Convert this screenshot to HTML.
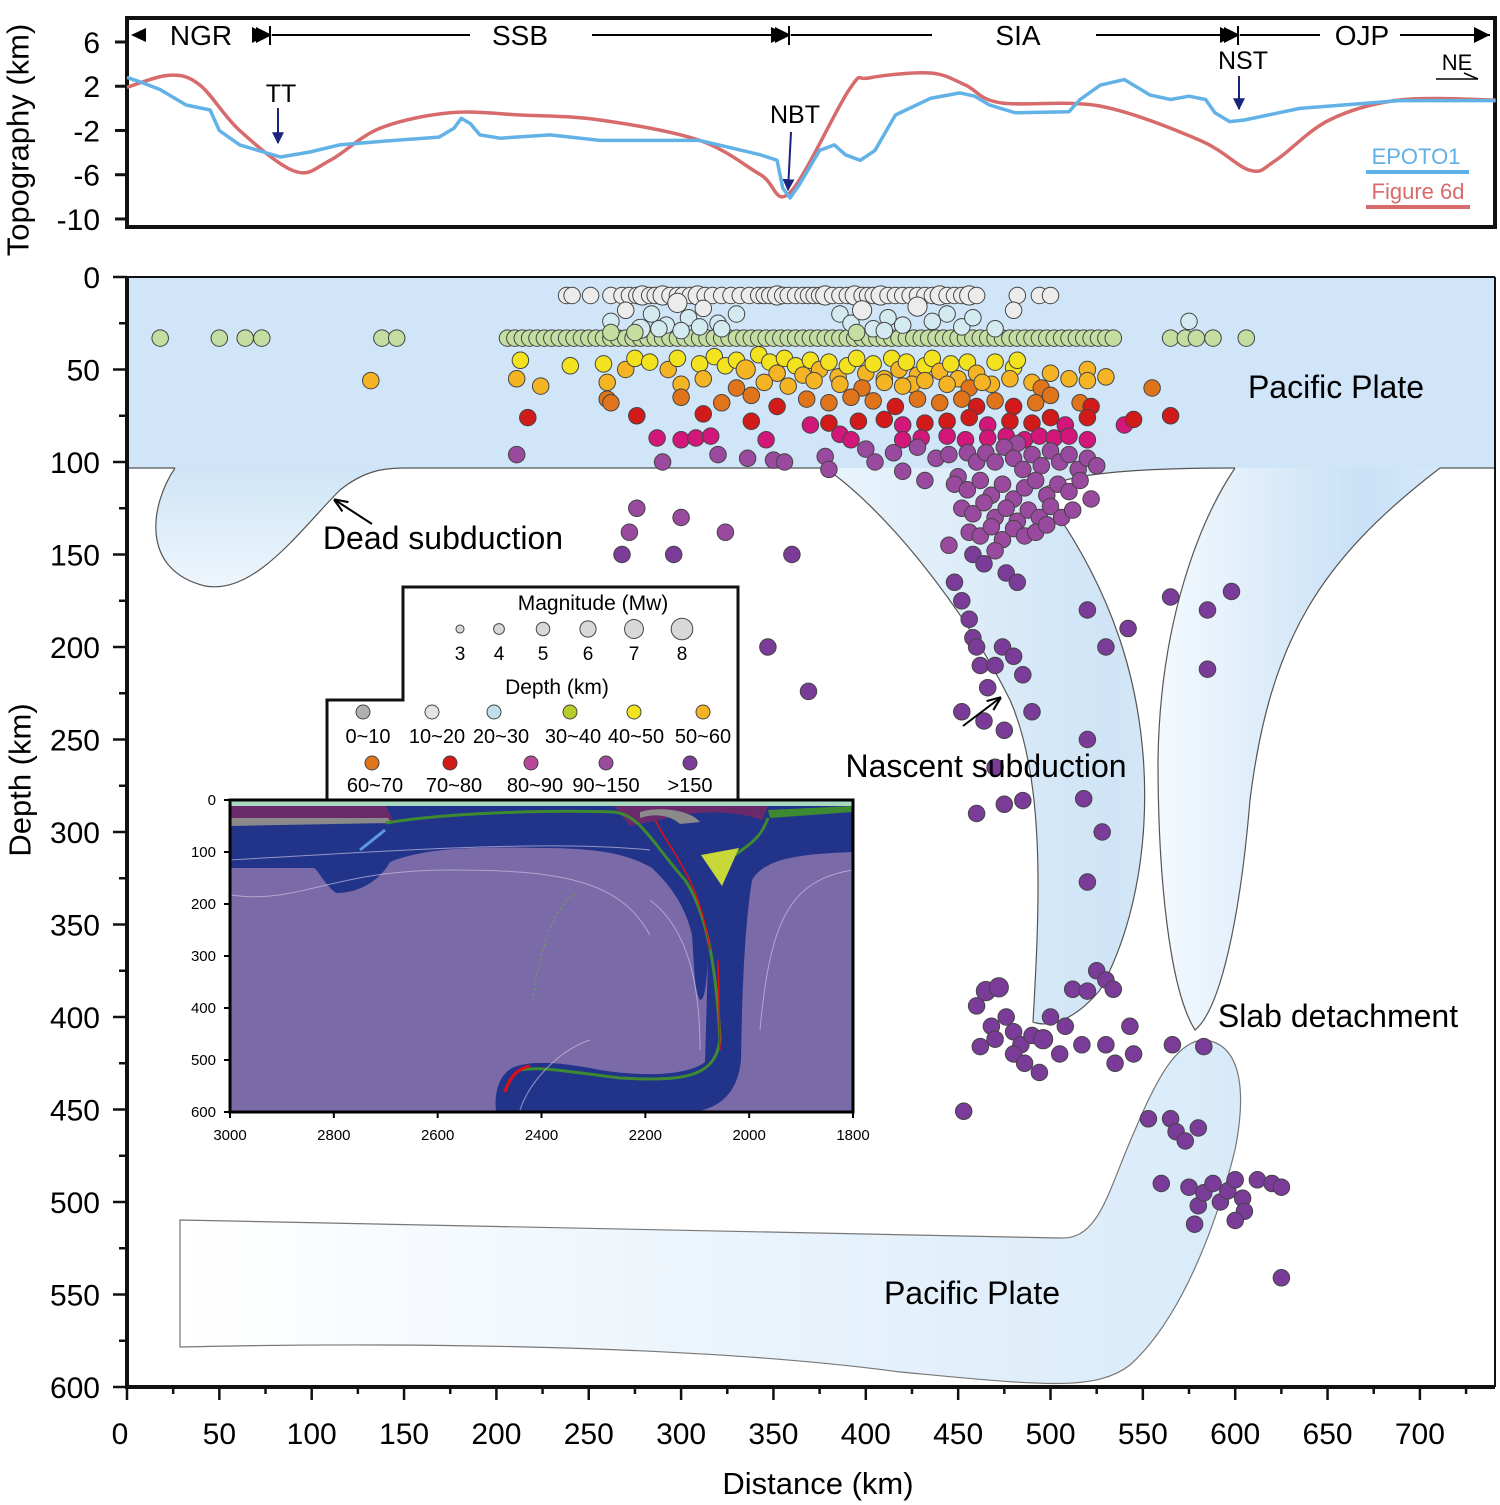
<!DOCTYPE html>
<html><head><meta charset="utf-8">
<style>
html,body{margin:0;padding:0;background:#fff;}
svg{display:block;font-family:"Liberation Sans",Arial,sans-serif;}
</style></head>
<body>
<svg id="fig" width="1500" height="1505" viewBox="0 0 1500 1505" xmlns="http://www.w3.org/2000/svg">
<defs>
<linearGradient id="gDead" x1="0" y1="0" x2="0" y2="1"><stop offset="0" stop-color="#cfe5f7"/><stop offset="1" stop-color="#eef6fc"/></linearGradient>
<linearGradient id="gSlab" x1="0" y1="0" x2="1" y2="0"><stop offset="0" stop-color="#eaf4fc"/><stop offset="0.7" stop-color="#cfe4f6"/><stop offset="1" stop-color="#e2effa"/></linearGradient>
<linearGradient id="gDet" x1="0" y1="0" x2="1" y2="0"><stop offset="0" stop-color="#f4f9fe"/><stop offset="0.6" stop-color="#c9e1f6"/><stop offset="1" stop-color="#ddeefb"/></linearGradient>
<linearGradient id="gLow" x1="0" y1="0" x2="1" y2="0"><stop offset="0" stop-color="#ffffff"/><stop offset="1" stop-color="#d8eaf9"/></linearGradient>
<marker id="arrNavy" viewBox="0 0 10 10" refX="9" refY="5" markerWidth="6" markerHeight="8" orient="auto"><path d="M0,0 L10,5 L0,10 z" fill="#1a237e"/></marker>
<marker id="arrBlk" viewBox="0 0 10 10" refX="9" refY="5" markerWidth="7" markerHeight="7" orient="auto"><path d="M0,1 L10,5 L0,9" fill="none" stroke="#000" stroke-width="1.5"/></marker>
<marker id="arrHead" viewBox="0 0 10 10" refX="10" refY="5" markerWidth="8" markerHeight="8" orient="auto"><path d="M0,0 L10,5 L0,10 z" fill="#000"/></marker>
</defs>

<g>
<rect x="127" y="18" width="1368" height="209" fill="#fff" stroke="#111" stroke-width="4"/>
<g id="topAxis"></g>
<g id="topLines"></g>
<text x="18" y="140" font-size="31" transform="rotate(-90 18 140)" text-anchor="middle" dominant-baseline="central">Topography (km)</text>
<g font-size="28" text-anchor="middle">
<path d="M131,35 L146,28 L146,42 Z" fill="#000"/>
<text x="201" y="45">NGR</text>
<line x1="258" y1="35" x2="268" y2="35" stroke="#000" stroke-width="2" marker-end="url(#arrHead)"/>
<line x1="270" y1="26" x2="270" y2="45" stroke="#000" stroke-width="2"/>
<line x1="272" y1="35" x2="470" y2="35" stroke="#000" stroke-width="2" marker-start="url(#arrHead)"/>
<text x="520" y="45">SSB</text>
<line x1="592" y1="35" x2="787" y2="35" stroke="#000" stroke-width="2" marker-end="url(#arrHead)"/>
<line x1="789" y1="26" x2="789" y2="45" stroke="#000" stroke-width="2"/>
<line x1="791" y1="35" x2="932" y2="35" stroke="#000" stroke-width="2" marker-start="url(#arrHead)"/>
<text x="1018" y="45">SIA</text>
<line x1="1096" y1="35" x2="1236" y2="35" stroke="#000" stroke-width="2" marker-end="url(#arrHead)"/>
<line x1="1238" y1="26" x2="1238" y2="45" stroke="#000" stroke-width="2"/>
<line x1="1240" y1="35" x2="1320" y2="35" stroke="#000" stroke-width="2" marker-start="url(#arrHead)"/>
<text x="1362" y="45">OJP</text>
<line x1="1400" y1="35" x2="1490" y2="35" stroke="#000" stroke-width="2" marker-end="url(#arrHead)"/>
</g>
<g font-size="25" text-anchor="middle">
<text x="281" y="102">TT</text>
<line x1="278" y1="108" x2="278" y2="143" stroke="#1a237e" stroke-width="2" marker-end="url(#arrNavy)"/>
<text x="795" y="123">NBT</text>
<line x1="791" y1="132" x2="788" y2="190" stroke="#1a237e" stroke-width="2" marker-end="url(#arrNavy)"/>
<text x="1243" y="69">NST</text>
<line x1="1239" y1="76" x2="1239" y2="109" stroke="#1a237e" stroke-width="2" marker-end="url(#arrNavy)"/>
<text x="1457" y="70" font-size="22">NE</text>
<line x1="1436" y1="79" x2="1478" y2="79" stroke="#000" stroke-width="1.5"/>
<line x1="1464" y1="73" x2="1478" y2="79" stroke="#000" stroke-width="1.5"/>
</g>
<g>
<text x="1416" y="164" font-size="22" fill="#5fb0e6" text-anchor="middle">EPOTO1</text>
<line x1="1366" y1="172" x2="1469" y2="172" stroke="#5fb0e6" stroke-width="4"/>
<text x="1418" y="199" font-size="22" fill="#d76b6b" text-anchor="middle">Figure 6d</text>
<line x1="1366" y1="207" x2="1470" y2="207" stroke="#d76b6b" stroke-width="4"/>
</g>
</g>

<g>
<rect x="127" y="277" width="1368" height="191" fill="#d0e6f8"/>
<line x1="127" y1="468" x2="175" y2="468" stroke="#555" stroke-width="1.2"/>
<path d="M175,468 C150,505 140,570 205,586 C255,595 300,530 340,490 C365,470 385,468 405,468" fill="url(#gDead)" stroke="#555" stroke-width="1.2"/>
<line x1="405" y1="468" x2="825" y2="468" stroke="#555" stroke-width="1.2"/>
<path d="M825,468 C880,505 960,600 1010,700 C1045,780 1040,900 1033,1022 C1050,1028 1075,1020 1100,990 C1150,900 1160,760 1120,640 C1100,580 1070,530 1040,490 C1060,478 1100,468 1235,468" fill="url(#gSlab)" stroke="#555" stroke-width="1.2"/>
<path d="M1235,468 C1200,520 1160,620 1158,760 C1158,880 1170,990 1195,1030 C1220,1010 1240,920 1250,800 C1270,640 1320,560 1440,468 L1495,468" fill="url(#gDet)" stroke="#555" stroke-width="1.2"/>
<path d="M180,1220 L1060,1238 C1100,1240 1108,1190 1135,1130 C1160,1070 1180,1040 1205,1040 C1245,1045 1245,1100 1235,1150 C1215,1230 1180,1320 1130,1365 C1095,1392 1040,1385 900,1372 C700,1345 400,1342 180,1347 Z" fill="url(#gLow)" stroke="#777" stroke-width="1.2"/>
<g id="quakes"></g>
<line x1="1495" y1="277" x2="1495" y2="1387" stroke="#111" stroke-width="2"/>
<line x1="127" y1="277" x2="1495" y2="277" stroke="#111" stroke-width="2"/>
<line x1="127" y1="277" x2="127" y2="1388" stroke="#111" stroke-width="4"/>
<line x1="125" y1="1387" x2="1495" y2="1387" stroke="#111" stroke-width="4"/>
<g id="mainAxes"></g>
<text x="20" y="780" font-size="31" transform="rotate(-90 20 780)" text-anchor="middle" dominant-baseline="central">Depth (km)</text>
<text x="818" y="1494" font-size="31" text-anchor="middle">Distance (km)</text>
<g font-size="32" text-anchor="middle">
<text x="1336" y="398">Pacific Plate</text>
<text x="443" y="549">Dead subduction</text>
<line x1="372" y1="524" x2="335" y2="500" stroke="#000" stroke-width="2" marker-end="url(#arrBlk)"/>
<text x="986" y="777">Nascent subduction</text>
<line x1="963" y1="726" x2="1000" y2="698" stroke="#000" stroke-width="2" marker-end="url(#arrBlk)"/>
<text x="1338" y="1027">Slab detachment</text>
<text x="972" y="1304">Pacific Plate</text>
</g>
</g>

<g>
<path d="M327,800 L327,700 L403,700 L403,587 L738,587 L738,800 Z" fill="#fff" stroke="#111" stroke-width="3"/>
<text x="593" y="610" font-size="21" text-anchor="middle">Magnitude (Mw)</text>
<g id="magLegend"></g>
<text x="557" y="694" font-size="21" text-anchor="middle">Depth (km)</text>
<g id="depthLegend"></g>
</g>

<g>
<rect x="230" y="800" width="623" height="312" fill="#7a6aa8"/>
<path d="M230,806 L853,806 L853,852 C800,854 765,858 752,880 C744,930 742,1000 741,1060 C738,1092 720,1110 690,1112 L496,1112 C494,1090 500,1075 512,1068 C530,1060 560,1062 600,1070 C650,1078 690,1074 705,1062 L708,960 C706,990 704,1000 700,1000 C694,990 694,960 692,935 C685,905 670,885 652,868 C625,852 590,848 540,848 C460,846 420,850 390,862 C380,880 360,893 336,893 C325,885 318,870 314,868 L230,868 Z" fill="#22338a"/>
<path d="M230,806 L386,806 L394,822 L230,824 Z" fill="#6a2a6a"/>
<path d="M230,818 L388,818 L392,823 L230,826 Z" fill="#8a8a8a"/>
<path d="M614,806 L768,806 L762,820 C740,812 700,808 660,820 L630,826 Z" fill="#6a2a6a"/>
<path d="M640,812 C660,806 690,810 700,822 L680,824 C670,815 655,813 640,818 Z" fill="#8a8a8a"/>
<path d="M230,800 L853,800 L853,806 L230,806 Z" fill="#a8d8c0"/>
<path d="M386,823 C450,812 560,810 614,812 C640,815 650,840 685,880 C705,910 716,960 720,1040 C715,1075 690,1082 620,1078 C570,1072 540,1066 520,1070" fill="none" stroke="#3e8a30" stroke-width="3"/>
<path d="M655,820 C670,850 700,880 710,950 M718,960 L720,1050" fill="none" stroke="#e01010" stroke-width="1.5"/>
<path d="M505,1092 C510,1075 520,1068 530,1066" fill="none" stroke="#e01010" stroke-width="3"/>
<path d="M768,818 C760,840 748,845 735,855" fill="none" stroke="#3e8a30" stroke-width="3"/>
<path d="M701,855 L739,848 L722,886 Z" fill="#c8d838"/>
<path d="M768,810 L853,806 L853,812 L770,818 Z" fill="#3e8a30"/>
<path d="M360,850 L385,830" stroke="#5a9ae0" stroke-width="3"/>
<path d="M230,895 C300,905 330,870 450,870 C560,870 620,880 650,935 M230,860 C400,850 550,840 650,850 M760,1030 C770,920 790,880 853,870 M520,1110 C530,1080 560,1050 590,1040 M650,900 C690,930 700,990 700,1050" fill="none" stroke="#c8c0e0" stroke-width="1" opacity="0.7"/>
<path d="M533,1000 C540,940 560,900 575,895" fill="none" stroke="#6ab040" stroke-width="1" stroke-dasharray="2 3"/>
<rect x="230" y="800" width="623" height="312" fill="none" stroke="#000" stroke-width="3"/>
<g id="insetAxes" font-size="15"></g>
</g>
</svg>

<script>
const topoRedDist = [0,23,39.5,61,91,110,137,175,213,256,310,343,359,391,402,435,454,473,527,581,608,622,651,689,741];
const topoRedVal = [1.9,3.0,2.1,-2.0,-5.7,-4.7,-1.8,-0.4,-0.6,-1.05,-2.9,-6.0,-7.6,1.7,2.75,3.2,2.1,0.5,0.2,-2.9,-5.6,-4.7,-1.05,0.76,0.76];
const topoBlueDist = [0,7,18,32,45,50,61,83,99,115,137,169,177,181,186,191,202,229,256,310,343,352,355,359,364,375,383,389,397,405,416,435,451,459,467,481,510,516,527,540,554,565,575,584,589,597,605,635,689,741];
const topoBlueVal = [2.8,2.4,1.7,0.3,-0.15,-2.0,-3.3,-4.4,-3.95,-3.3,-3.0,-2.6,-1.8,-0.9,-1.4,-2.4,-2.7,-2.4,-2.9,-2.9,-4.2,-4.7,-7.2,-8.1,-6.9,-3.8,-3.3,-4.2,-4.7,-3.8,-0.6,0.9,1.4,1.1,0.3,-0.4,-0.3,0.8,2.1,2.6,1.2,0.8,1.1,0.8,-0.4,-1.2,-1.05,0.0,0.7,0.7];
const topoTicks = [6,2,-2,-6,-10];

const row10Dist = [238,241,251,262,268,272,276,279,283,286,290,294,298,301,305,309,313,317,322,327,332,337,342,345,348,352,355,358,362,366,369,372,375,378,382,386,390,394,398,401,404,408,412,416,420,424,428,432,436,440,444,448,452,456,460,482,494,500];
const row10Mag = [5,5,5,5,5,5,5,6,5,5,6,5,5,5,5,6,5,5,5,5,5,5,5,5,5,6,5,5,5,5,5,5,5,6,5,5,5,6,5,5,5,6,5,5,5,5,5,5,5,6,5,5,5,6,5,5,5,5];
const row33Dist = [18,50,64,73,138,146,206,210,214,218,222,226,230,234,238,242,246,250,254,258,262,266,270,274,278,282,286,290,294,298,302,306,310,314,318,322,326,330,334,338,342,346,350,354,358,362,366,370,374,378,382,386,390,394,398,402,406,410,414,418,422,426,430,434,438,442,446,450,454,458,462,466,470,474,478,482,486,490,494,498,502,506,510,514,518,522,526,530,534,565,573,579,588,606];
const shallowDist = [262,270,278,284,292,298,304,312,320,330,262,275,288,300,310,322,386,392,398,404,412,420,428,436,444,452,458,575,470,480,395,410];
const shallowDepth = [24,18,28,20,26,14,22,17,25,20,30,30,28,29,27,28,20,25,18,28,22,26,16,24,20,27,22,24,28,18,30,29];
const shallowMag = [5,5,6,5,5,6,5,5,5,5,5,5,5,5,5,5,5,5,6,5,5,5,6,5,5,5,5,5,5,5,5,5];
const deepDist = [
 213,132,211,240,258,270,275,283,293,298,310,318,324,330,335,342,348,352,356,362,366,370,375,380,385,390,395,400,404,410,414,418,422,428,432,436,440,446,450,455,460,470,480,490,500,510,520,530,482,425,
 224,260,300,312,330,345,358,372,386,398,410,420,432,444,456,468,478,495,520,555,463,
 260,300,322,338,352,368,380,392,404,416,428,440,452,460,470,480,492,500,516,522,262,
 217,276,312,338,370,380,396,410,420,432,444,456,466,478,490,500,508,520,540,565,545,
 287,300,308,316,346,386,392,420,430,444,454,466,476,486,494,502,510,520,482,
 211,290,320,336,350,356,378,380,400,405,415,420,428,432,438,445,450,455,460,
 465,470,475,480,485,490,495,500,505,510,515,520,525,
 448,455,462,468,474,480,486,492,498,504,510,516,522,
 452,458,464,470,476,482,488,494,500,506,512,
 456,462,468,474,480,486,492,498,
 458,464,470,476,482,
 585,
 268,272,276,300,296,360,369,347,324,445,448,452,456,458,460,462,466,470,474,480,485,490,464,470,452,475,475,485,520,530,520,542,565,598,585,518,528,520,460,
 465,472,460,468,476,480,484,490,496,500,508,512,520,525,530,534,462,470,480,486,494,505,517,530,535,543,545,566,453,
 553,565,568,580,573,583,560,575,580,583,588,592,596,600,604,612,605,578,600,620,625,625];
const deepDepth = [
 45,56,55,48,47,50,44,46,50,44,47,43,48,45,50,42,46,52,44,48,53,45,50,46,54,48,44,52,47,55,44,50,46,53,48,44,51,47,55,46,52,46,49,57,52,55,50,54,45,58,
 59,57,58,55,60,57,59,56,58,60,57,59,56,58,60,58,55,60,56,60,57,
 66,65,68,64,70,66,68,65,67,70,66,68,66,70,67,70,68,64,68,70,68,
 76,75,74,78,80,79,78,77,80,79,78,76,80,78,79,76,80,76,80,75,77,
 87,88,87,86,88,85,88,88,87,86,88,87,86,88,86,87,86,88,90,
 96,100,96,98,99,100,97,104,93,100,95,105,92,110,98,96,108,95,100,
 95,100,92,98,104,96,102,94,100,96,104,98,102,
 112,115,110,118,112,120,114,110,118,112,116,110,120,
 125,128,122,130,125,132,126,130,124,130,126,
 138,140,135,142,136,140,138,134,
 150,155,148,160,165,
 180,
 150,138,125,130,150,150,224,200,138,145,165,175,185,195,200,210,222,210,200,205,215,235,240,265,235,245,285,283,250,200,180,190,173,170,212,282,300,327,290,
 386,384,394,405,400,408,415,410,412,400,405,385,386,375,380,385,416,412,420,425,430,420,415,415,425,405,420,415,451,
 455,455,462,460,467,416,490,492,502,495,490,500,494,488,498,488,505,512,510,490,492,541];
const deepMag = [
 5,5,5,5,5,5,5,5,5,5,5,5,5,5,6,5,5,5,5,5,5,5,5,5,5,5,5,5,5,5,5,5,5,5,5,5,5,5,5,5,5,5,5,5,5,5,5,5,5,5,
 5,5,5,5,5,5,5,5,5,5,5,5,5,5,5,5,5,5,5,5,5,
 5,5,5,5,5,5,5,5,5,5,5,5,5,5,5,5,5,5,5,5,5,
 5,5,5,5,5,5,5,5,5,5,5,5,5,5,5,5,5,5,5,5,5,
 5,5,5,5,5,5,5,5,5,5,5,5,5,5,5,5,5,5,5,
 5,5,5,5,5,5,5,5,5,5,5,5,5,5,5,5,5,5,5,
 5,5,5,5,5,5,5,5,5,5,5,5,5,
 5,5,5,5,5,5,5,5,5,5,5,5,5,
 5,5,5,5,5,5,5,5,5,5,5,
 5,5,5,5,5,5,5,5,
 5,5,5,5,5,
 5,
 5,5,5,5,5,5,5,5,5,5,5,5,5,5,5,5,5,5,5,5,5,5,5,5,5,5,5,5,5,5,5,5,5,5,5,5,5,5,5,
 6,6,5,5,5,5,5,5,6,5,5,5,5,5,5,5,5,5,5,5,5,5,5,5,5,5,5,5,5,
 5,5,5,5,5,5,5,5,5,5,5,5,5,5,5,5,5,5,5,5,5,5];

const depthTicks = [0,50,100,150,200,250,300,350,400,450,500,550,600];
const distTicks = [0,50,100,150,200,250,300,350,400,450,500,550,600,650,700];
const magLevels = [3,4,5,6,7,8];
const depthBins = ["0~10","10~20","20~30","30~40","40~50","50~60","60~70","70~80","80~90","90~150",">150"];
const insetDepthTicks = [0,100,200,300,400,500,600];
const insetDistTicks = [3000,2800,2600,2400,2200,2000,1800];

const NS = "http://www.w3.org/2000/svg";
function el(tag, attrs, parent){const e=document.createElementNS(NS,tag);for(const k in attrs)e.setAttribute(k,attrs[k]);parent.appendChild(e);return e;}
const xMain = d => 127 + d*1.847;
const yMain = z => 277 + z*1.85;
const yTopo = v => 42 + (6 - v)*11.06;
const rMag = m => 1.5 + m*1.35;
function depthColor(z){
  if(z < 10) return "#c8c8c8";
  if(z < 20) return "#ececec";
  if(z < 30) return "#d2eaf0";
  if(z < 40) return "#c4dea2";
  if(z < 50) return "#f3e31e";
  if(z < 60) return "#f4b424";
  if(z < 70) return "#e0741a";
  if(z < 80) return "#d21a1a";
  if(z < 90) return "#d2167a";
  if(z < 150) return "#9a4a9e";
  return "#7a3c98";
}
const binColors = ["#b0b0b0","#e4e4e4","#bfe0ea","#b7cc2a","#f3e31e","#f4b424","#e0741a","#d21a1a","#b8479a","#9a4a9e","#7a3c98"];

const topAxis = document.getElementById('topAxis');
topoTicks.forEach(v=>{
  const y=yTopo(v);
  const t=el('line',{x1:115,y1:y,x2:127,y2:y,stroke:'#111','stroke-width':3},topAxis);
  
  
  const l=el('text',{x:100,y:y+11,'font-size':30,'text-anchor':'end'},topAxis);
  l.textContent=v;
  
  
});
const topLines=document.getElementById('topLines');
function linePath(ds,vs,color,name,smooth){
  const pts=ds.map((d,i)=>[xMain(d),yTopo(vs[i])]);
  const n=pts.length;
  let s='M'+pts[0][0].toFixed(1)+','+pts[0][1].toFixed(1);
  for(let i=0; i < n-1; i++){
    if(smooth){
      const p0=pts[Math.max(0,i-1)],p1=pts[i],p2=pts[i+1],p3=pts[Math.min(n-1,i+2)];
      const c1=[p1[0]+(p2[0]-p0[0])/6,p1[1]+(p2[1]-p0[1])/6];
      const c2=[p2[0]-(p3[0]-p1[0])/6,p2[1]-(p3[1]-p1[1])/6];
      s+=' C'+c1[0].toFixed(1)+','+c1[1].toFixed(1)+' '+c2[0].toFixed(1)+','+c2[1].toFixed(1)+' '+p2[0].toFixed(1)+','+p2[1].toFixed(1);
    } else s+=' L'+pts[i+1][0].toFixed(1)+','+pts[i+1][1].toFixed(1);
  }
  const p=el('path',{d:s,fill:'none',stroke:color,'stroke-width':3.5,'stroke-linejoin':'round'},topLines);
  
  
}
linePath(topoRedDist,topoRedVal,'#d76b6b','figure6d-line',true);
linePath(topoBlueDist,topoBlueVal,'#62b2e8','epoto1-line',false);

const qg=document.getElementById('quakes');
function quake(d,z,m){
  const c=el('circle',{cx:xMain(d).toFixed(1),cy:yMain(z).toFixed(1),r:rMag(m),fill:depthColor(z),stroke:'#444','stroke-width':1},qg);
  
  
}
row33Dist.forEach(d=>quake(d,33,5));
row10Dist.forEach((d,i)=>quake(d,10,row10Mag[i]));
shallowDist.forEach((d,i)=>quake(d,shallowDepth[i],shallowMag[i]));
deepDist.forEach((d,i)=>quake(d,deepDepth[i],deepMag[i]));

const ax=document.getElementById('mainAxes');
for(let z=0; z <= 600; z+=25){
  const major=z%50===0;
  const t=el('line',{x1:major?113:119,y1:yMain(z),x2:127,y2:yMain(z),stroke:'#111','stroke-width':2.5},ax);
  
  
}
depthTicks.forEach(z=>{
  const l=el('text',{x:100,y:yMain(z)+11,'font-size':30,'text-anchor':'end'},ax);
  l.textContent=z;
  
  
});
for(let d=0; d <= 740; d+=25){
  const major=d%50===0;
  const t=el('line',{x1:xMain(d),y1:1387,x2:xMain(d),y2:major?1400:1394,stroke:'#111','stroke-width':2.5},ax);
  
  
}
distTicks.forEach(d=>{
  const l=el('text',{x:xMain(d)-(d===0?7:0),y:1444,'font-size':30,'text-anchor':'middle'},ax);
  l.textContent=d;
  
  
});

const ml=document.getElementById('magLegend');
magLevels.forEach((m,i)=>{
  const x=[460,499,543,588,634,682][i];
  const c=el('circle',{cx:x,cy:629,r:rMag(m)-1.5,fill:'#d8d8d8',stroke:'#444','stroke-width':1},ml);
  
  
  const l=el('text',{x:x,y:660,'font-size':19,'text-anchor':'middle'},ml);
  l.textContent=m;
  
  
});
const dl=document.getElementById('depthLegend');
const row1x=[363,432,494,570,634,703], row2x=[372,450,531,606,690];
const lab1x=[368,437,501,573,636,703], lab2x=[375,454,535,606,690];
depthBins.forEach((b,i)=>{
  const r2=i>=6;
  const cx=r2?row2x[i-6]:row1x[i], cy=r2?763:712;
  const c=el('circle',{cx:cx,cy:cy,r:7,fill:binColors[i],stroke:'#444','stroke-width':1},dl);
  
  
  const l=el('text',{x:r2?lab2x[i-6]:lab1x[i],y:r2?792:743,'font-size':20,'text-anchor':'middle'},dl);
  l.textContent=b;
  
  
});

const ia=document.getElementById('insetAxes');
insetDepthTicks.forEach(v=>{
  const y=800+v*(312/600);
  const t=el('line',{x1:224,y1:y,x2:230,y2:y,stroke:'#000','stroke-width':2},ia);
  
  
  const l=el('text',{x:216,y:y+5,'text-anchor':'end'},ia);
  l.textContent=v;
  
  
});
insetDistTicks.forEach(v=>{
  const x=230+(3000-v)*(623/1200);
  const t=el('line',{x1:x,y1:1112,x2:x,y2:1118,stroke:'#000','stroke-width':2},ia);
  
  
  const l=el('text',{x:x,y:1140,'text-anchor':'middle'},ia);
  l.textContent=v;
  
  
});
</script>
</body></html>
